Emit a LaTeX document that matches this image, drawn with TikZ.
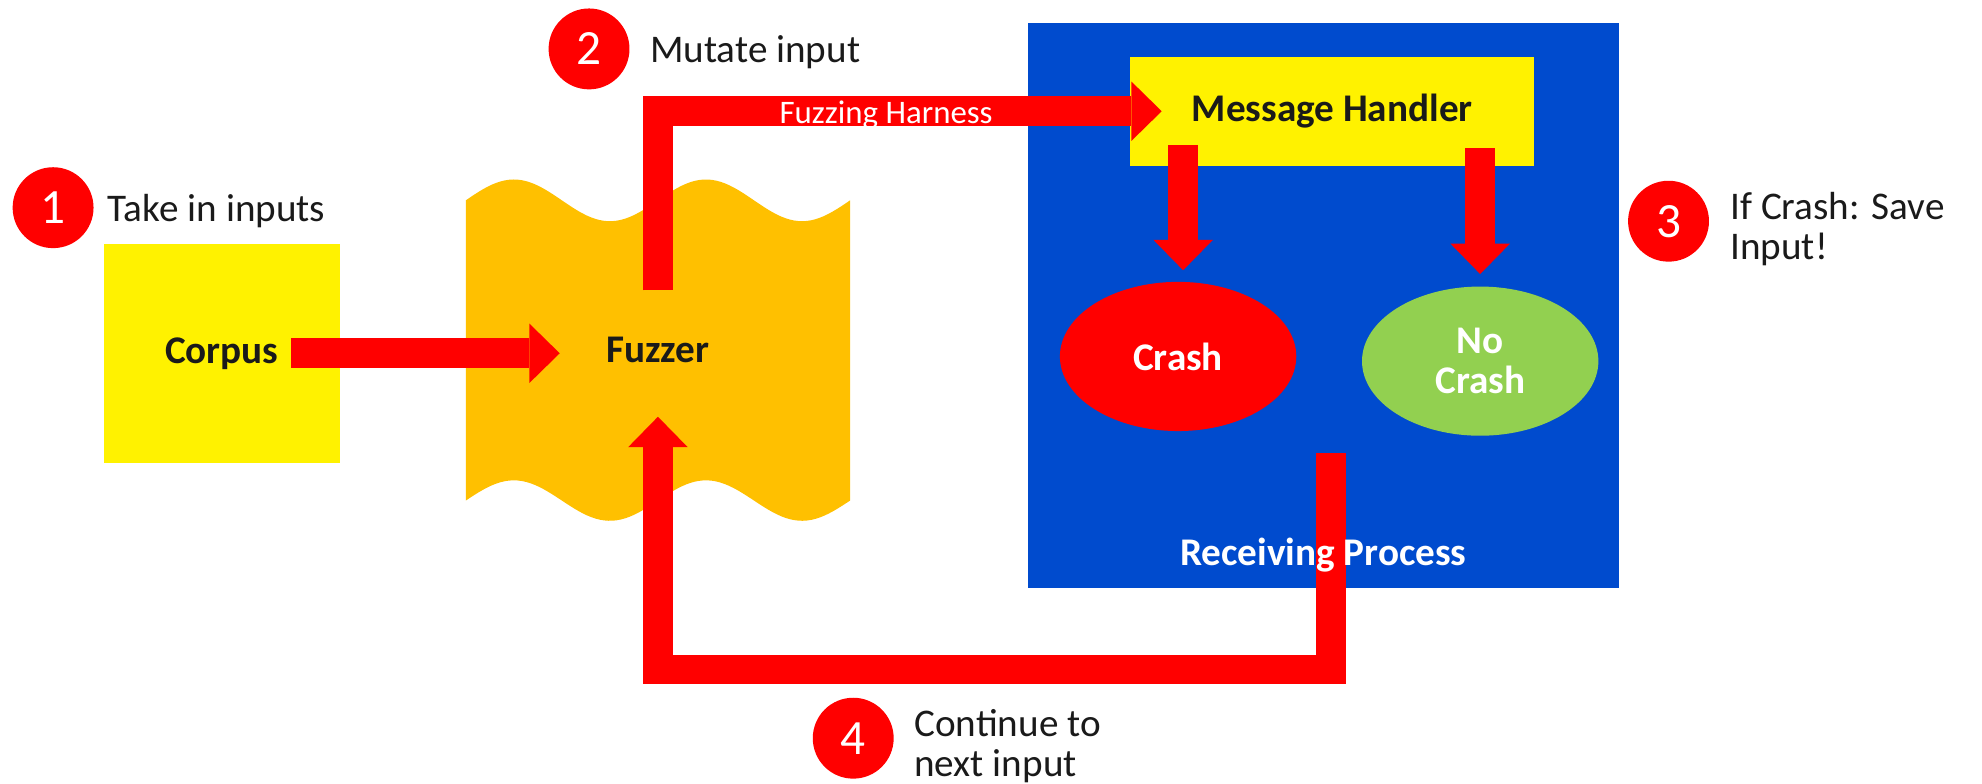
\documentclass[tikz,border=0pt]{standalone}
\usepackage{fontspec}
\setmainfont{Carlito}
\usepackage{xcolor}
\usetikzlibrary{shapes.geometric, arrows.meta, positioning}

\definecolor{fuzzorange}{RGB}{255,192,0}
\definecolor{procblue}{RGB}{0,75,206}
\definecolor{okgreen}{RGB}{146,208,80}
\definecolor{inkgray}{RGB}{26,26,26}

\begin{document}
\begin{tikzpicture}[x=1pt, y=-1pt]

\tikzstyle{block} = [rectangle, inner sep=0pt, text=inkgray, font=\fontsize{31}{32}\selectfont\bfseries]
\tikzstyle{outcome} = [ellipse, inner sep=0pt, minimum width=187pt, minimum height=118pt, text=white, align=center, font=\fontsize{31}{32}\selectfont\bfseries]
\tikzstyle{badge} = [circle, fill=red, text=white, minimum size=64pt, inner sep=0pt, font=\fontsize{39}{39}\selectfont]
\tikzstyle{note} = [inner sep=0pt, text=inkgray, align=left, font=\fontsize{31}{31.6}\selectfont]
\tikzstyle{arrow} = [draw=red, line width=23.5pt, -{Triangle[length=24pt, width=47pt, line width=0pt]}]

\useasboundingbox (0,0) rectangle (1568,620);

\node (recv) [rectangle, fill=procblue, minimum width=468pt, minimum height=447pt] at (1047,241.5) {};
\fill [fuzzorange] plot [domain=0:720, samples=90] ({368.5+\x*0.42222}, {158.5-16.5*sin(\x)})
  -- plot [domain=720:0, samples=90] ({368.5+\x*0.42222}, {396-16*sin(\x)}) -- cycle;

\node (corpus) [block, fill=yellow, minimum width=187pt, minimum height=173pt] at (175.5,279.5) {Corpus};
\node (fuzzer) [block, minimum width=155pt, minimum height=105pt] at (520.5,277) {Fuzzer};
\node (handler) [block, fill=yellow, minimum width=319.5pt, minimum height=86pt] at (1054,88) {Message Handler};
\node (crash) [outcome, fill=red] at (932,282) {Crash};
\node (nocrash) [outcome, fill=okgreen] at (1171,285.7) {No\\Crash};
\coordinate (back) at (1053,358.6);

\draw [arrow, shorten <=55pt] (corpus.center) -- (corpus.center -| fuzzer.west);
\draw [arrow, shorten <=-5.5pt, shorten >=-25pt] (fuzzer.north) |- (handler.west);
\draw [arrow, shorten <=-16.5pt, shorten >=9pt] ([xshift=4pt]handler.south -| crash.north) -- ([xshift=4pt]crash.north);
\draw [arrow, shorten <=-14pt, shorten >=9.7pt] (handler.south -| nocrash.north) -- (nocrash.north);
\draw [arrow] (back) -- ++(0,171) -| (fuzzer.south);

\node (harness) [note, text=white, font=\fontsize{26}{26}\selectfont, anchor=base] at (701,97.6) {Fuzzing Harness};
\node (recvlabel) [block, text=white, anchor=base] at ([yshift=18pt]recv.south) {Receiving Process};

\node (one) [badge] at (42,164.3) {1};
\node (take) [note, right=11pt of one, yshift=-2.5pt] {Take in inputs};
\node (two) [badge] at (466,38.7) {2};
\node (mutate) [note, right=16pt of two, yshift=-2.5pt] {Mutate input};
\node (three) [badge] at (1320,175) {3};
\node (save) [note, right=16.5pt of three, yshift=-6.5pt] {If Crash: Save\\Input!};
\node (four) [badge] at (675,584) {4};
\node (cont) [note, right=16pt of four, yshift=-6pt] {Continue to\\next input};
\end{tikzpicture}
\end{document}
